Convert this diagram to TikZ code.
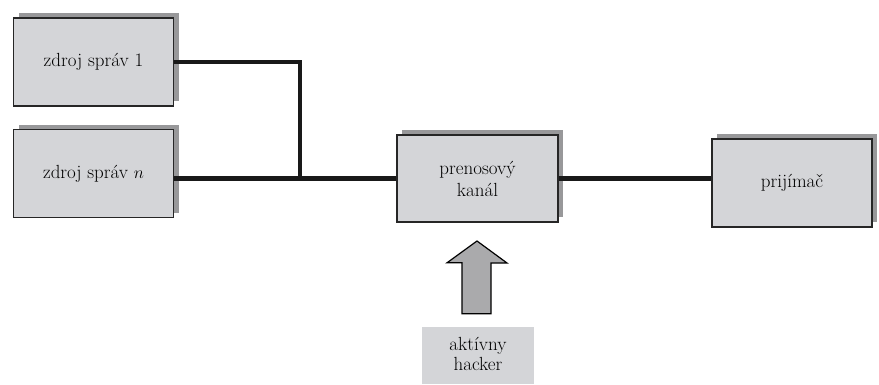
\documentclass[tikz,border=0pt]{standalone}
\usetikzlibrary{calc}

\definecolor{boxgray}{RGB}{212,213,216}
\definecolor{shadowgray}{RGB}{152,152,154}
\definecolor{arrowgray}{RGB}{170,170,172}

\tikzstyle{block}=[draw=black!85,line width=1.4pt,fill=boxgray,minimum width=160pt,minimum height=88pt,inner sep=0pt,align=center,font=\fontsize{19}{22}\selectfont,text=black,
  preaction={fill=shadowgray,transform canvas={xshift=5pt,yshift=5pt}}]
\tikzstyle{plain block}=[fill=boxgray,minimum width=112pt,minimum height=57pt,inner sep=0pt,align=center,font=\fontsize{19}{20}\selectfont,text=black]
\tikzstyle{wire} = [draw,line width=4.2pt,black!90]
\tikzstyle{fat wire} = [draw,line width=5.2pt,black!90]

\begin{document}
\begin{tikzpicture}[x=1pt,y=-1pt]
	\useasboundingbox (0,0) rectangle (879,384);
			\node[block] (src1) at (93.5,62) {zdroj správ 1};
			\node[block] (srcn) at (93.5,173.5) {zdroj správ $n$};
			\node[block,minimum width=161pt,minimum height=87pt] (chan) at (477.5,178.5) {prenosový\\kanál};
			\node[block] (recv) at (792,183) {prijímač};
			\node[plain block,text depth=3pt] (hack) at (478,355.5) {aktívny\\hacker};
			\coordinate (join) at (300,178.5);
	    		% Sources go into the channel
			\path[wire] (src1.east) -- (src1.east -| join) -- (join);
			\path[wire] (srcn.east |- chan.west) -- (chan.west);
	   		 % Channel to receiver
			\path[fat wire] (chan.east) -- (chan.east -| recv.west);
			% Attack arrow
			\draw[line width=1.2pt,fill=arrowgray,line join=miter] ($(hack.north)+(-16,-13)$) -- ++(0,-51) -- ++(-15,0) -- (477,241) -- (507,263) -- ++(-16,0) -- ($(hack.north)+(13,-13)$) -- cycle;
		\end{tikzpicture}
\end{document}
